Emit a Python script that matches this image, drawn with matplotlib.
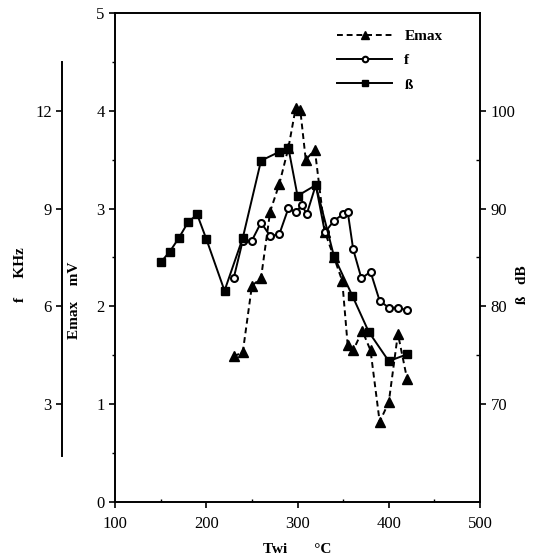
import numpy as np
import matplotlib
matplotlib.use("Agg")
import matplotlib.pyplot as plt
from matplotlib.ticker import MultipleLocator, FixedLocator

plt.rcParams['font.family'] = ['Liberation Serif', 'DejaVu Serif']

# Emax (mV) vs Twi
t_emax = [230, 240, 250, 260, 270, 280, 290, 298, 303, 309, 319, 330, 340, 349,
          355, 361, 371, 380, 390, 400, 410, 420]
emax = [1.49, 1.53, 2.21, 2.29, 2.97, 3.25, 3.62, 4.03, 4.01, 3.5, 3.6, 2.76, 2.5, 2.26,
        1.6, 1.55, 1.75, 1.55, 0.82, 1.02, 1.72, 1.26]

# f (KHz) vs Twi
t_f = [230, 240, 250, 260, 270, 280, 290, 298, 305, 310, 320, 330, 340, 350,
       355, 361, 370, 380, 390, 400, 410, 420]
f_khz = [6.86, 8.02, 8.02, 8.57, 8.16, 8.21, 9.01, 8.89, 9.11, 8.82, 9.72, 8.27, 8.63, 8.83,
         8.9, 7.75, 6.86, 7.06, 6.17, 5.96, 5.96, 5.88]

# beta (dB) vs Twi
t_b = [150, 160, 170, 180, 190, 200, 220, 240, 260, 280, 290, 300, 320, 340,
       360, 378, 400, 420]
beta = [84.5, 85.6, 87.0, 88.6, 89.4, 86.9, 81.6, 87.0, 94.9, 95.8, 96.2, 91.3, 92.4, 85.1,
        81.1, 77.4, 74.4, 75.1]

fig = plt.figure(figsize=(5.39, 5.59), dpi=100)
ax = fig.add_axes([0.2134, 0.102, 0.6772, 0.8748])

lw = 1.4
ax.plot(t_emax, emax, ls=(0, (3, 2)), color='black', lw=lw, marker='^', ms=6.5,
        mfc='black', mec='black', label='Emax')
ax.set_xlim(100, 500)
ax.set_ylim(0, 5)
ax.xaxis.set_major_locator(MultipleLocator(100))
ax.xaxis.set_minor_locator(MultipleLocator(50))
ax.yaxis.set_major_locator(MultipleLocator(1))
ax.yaxis.set_minor_locator(MultipleLocator(0.5))
ax.tick_params(axis='both', which='major', direction='out', length=4, width=1.2, labelsize=12)
ax.tick_params(axis='x', which='major', pad=6)
ax.tick_params(axis='both', which='minor', direction='out', length=2.5, width=1)
ax.tick_params(axis='x', which='minor', direction='in')
ax.spines['right'].set_visible(False)
for s in ['left', 'top', 'bottom']:
    ax.spines[s].set_linewidth(1.4)

# f axis on far left
axf = ax.twinx()
axf.plot(t_f, f_khz, ls='-', color='black', lw=lw, marker='o', ms=5,
         mfc='white', mec='black', mew=1.5, label='f')
axf.set_ylim(0, 15)
axf.spines['right'].set_visible(False)
axf.spines['top'].set_visible(False)
axf.spines['bottom'].set_visible(False)
axf.spines['left'].set_visible(True)
axf.spines['left'].set_position(('axes', -0.145))
axf.spines['left'].set_bounds(1.4, 13.5)
axf.spines['left'].set_linewidth(1.4)
axf.yaxis.set_ticks_position('left')
axf.yaxis.set_label_position('left')
axf.yaxis.set_major_locator(FixedLocator([3, 6, 9, 12]))
axf.tick_params(axis='y', direction='out', length=4, width=1.2, labelsize=12)

# beta axis on right
axb = ax.twinx()
axb.plot(t_b, beta, ls='-', color='black', lw=lw, marker='s', ms=6,
         mfc='black', mec='black', label='\u00df')
axb.set_ylim(60, 110)
axb.spines['left'].set_visible(False)
axb.spines['top'].set_visible(False)
axb.spines['bottom'].set_visible(False)
axb.spines['right'].set_linewidth(1.4)
axb.yaxis.set_major_locator(FixedLocator([70, 80, 90, 100]))
axb.yaxis.set_minor_locator(FixedLocator([75, 85, 95]))
axb.tick_params(axis='y', which='major', direction='out', length=4, width=1.2, labelsize=12)
axb.tick_params(axis='y', which='minor', direction='in', length=3, width=1)

lab = dict(fontsize=11, fontweight='bold')
ax.set_xlabel('Twi       \u00b0C', labelpad=8, **lab)
fig.text(75 / 539, 1 - 300 / 559, 'Emax    mV', rotation=90, ha='center', va='center', **lab)
fig.text(20 / 539, 1 - 275 / 559, 'f     KHz', rotation=90, ha='center', va='center', **lab)
fig.text(522 / 539, 1 - 285 / 559, '\u00df   dB', rotation=90, ha='center', va='center', **lab)

handles = [ax.get_lines()[0], axf.get_lines()[0], axb.get_lines()[0]]
leg = axb.legend(handles=handles, labels=['Emax', 'f', '\u00df'], loc='upper right',
                 bbox_to_anchor=(0.935, 0.995), frameon=False, handlelength=3.6,
                 labelspacing=0.7, markerscale=0.8, prop={'weight': 'bold', 'size': 11})

fig.savefig('out.png', dpi=100)
